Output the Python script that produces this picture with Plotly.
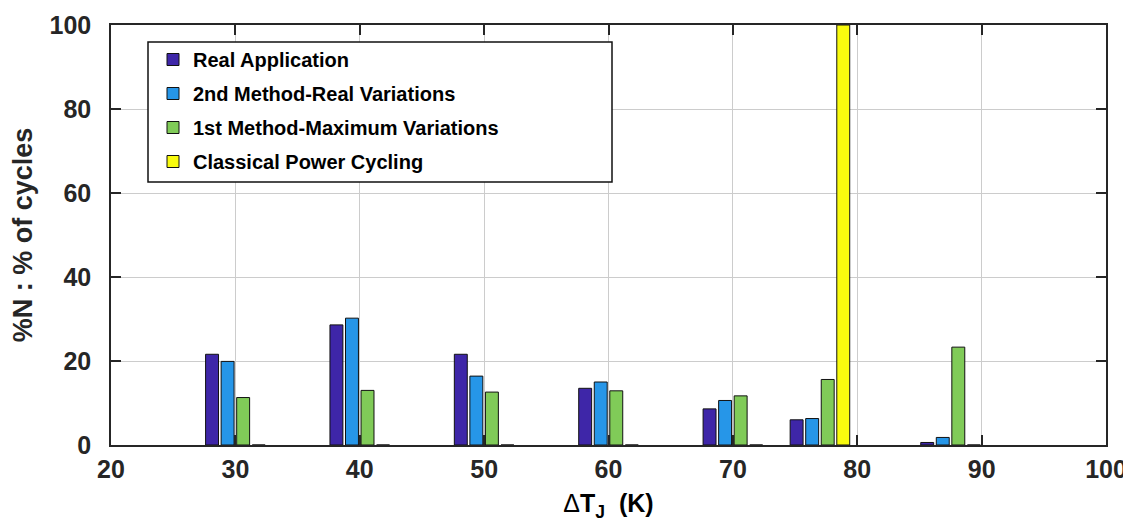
import plotly.graph_objects as go

# ---- data ----
group_centers = [30, 40, 50, 60, 70, 77, 87.5]
series_names = ["Real Application", "2nd Method-Real Variations",
                "1st Method-Maximum Variations", "Classical Power Cycling"]
real_application = [21.6, 28.6, 21.6, 13.5, 8.6, 6.0, 0.6]
second_method = [19.9, 30.2, 16.4, 15.0, 10.6, 6.3, 1.8]
first_method = [11.3, 13.0, 12.6, 12.9, 11.7, 15.6, 23.3]
classical = [0, 0, 0, 0, 0, 100, 0]
colors = ["#3e26a8", "#2696e8", "#80cb58", "#f9fb0e"]
x_ticks = [20, 30, 40, 50, 60, 70, 80, 90, 100]
y_ticks = [0, 20, 40, 60, 80, 100]

series = [real_application, second_method, first_method, classical]

bar_w = 1.04
spacing = 1.25
font_family = "Liberation Sans, Arial, sans-serif"
ink = "#262626"

# page body has an 8px default margin; size the figure to fill the rest
W, H = 1123, 519
ML, MR, MT, MB = 103, 25, 17, 82
plot_w = W - ML - MR
plot_h = H - MT - MB

fig = go.Figure()
for i, (name, vals, col) in enumerate(zip(series_names, series, colors)):
    fig.add_trace(go.Bar(
        x=group_centers, y=vals, name=name,
        width=bar_w, offset=(i - 1.5) * spacing - bar_w / 2,
        marker=dict(color=col, line=dict(color="#111111", width=1)),
        legendgroup=f"g{i}",
    ))

# legend frame (box is wider than the entries, as in the original)
lx0, lx1, ly0, ly1 = 37, 501, 17, 157  # px from plot's top-left
fig.add_shape(type="rect", xref="paper", yref="paper", layer="above",
              x0=lx0 / plot_w, x1=lx1 / plot_w,
              y0=1 - ly1 / plot_h, y1=1 - ly0 / plot_h,
              fillcolor="white", line=dict(color="#111111", width=1.5))

fig.update_layout(
    width=W, height=H,
    barmode="overlay",
    paper_bgcolor="white", plot_bgcolor="white",
    margin=dict(l=ML, r=MR, t=MT, b=MB),
    font=dict(family=font_family, color=ink),
    showlegend=True,
    legend=dict(
        x=(lx0 + 5) / plot_w, y=1 - (ly0 - 2) / plot_h, xanchor="left", yanchor="top",
        bgcolor="rgba(0,0,0,0)", borderwidth=0,
        font=dict(size=20, color="#000000", family=font_family, weight="bold"),
        tracegroupgap=5, itemwidth=30,
    ),
)

fig.update_xaxes(
    range=[20, 100], tickvals=x_ticks, ticktext=[str(v) for v in x_ticks],
    showgrid=True, gridcolor="#cccccc", gridwidth=1,
    showline=True, linecolor=ink, linewidth=1.5, mirror="ticks",
    ticks="inside", ticklen=10, tickcolor=ink, tickwidth=1.5,
    tickfont=dict(size=25, family=font_family, color=ink, weight="bold"),
    ticklabelstandoff=1,
    zeroline=False, automargin=False,
    title=dict(text="<span style=\"font-weight:normal\">Δ</span>T<sub>J</sub>  (K)", standoff=13,
               font=dict(size=25, family=font_family, color="#000000", weight="bold")),
)
fig.update_yaxes(
    range=[0, 100], tickvals=y_ticks, ticktext=[str(v) for v in y_ticks],
    showgrid=True, gridcolor="#cccccc", gridwidth=1,
    showline=True, linecolor=ink, linewidth=1.5, mirror="ticks",
    ticks="inside", ticklen=10, tickcolor=ink, tickwidth=1.5,
    tickfont=dict(size=25, family=font_family, color=ink, weight="bold"),
    ticklabelstandoff=13,
    zeroline=False, automargin=False,
    title=dict(text="%N : % of cycles", standoff=9,
               font=dict(size=27, family=font_family, color=ink, weight="bold")),
)

fig.write_html("out.html")
